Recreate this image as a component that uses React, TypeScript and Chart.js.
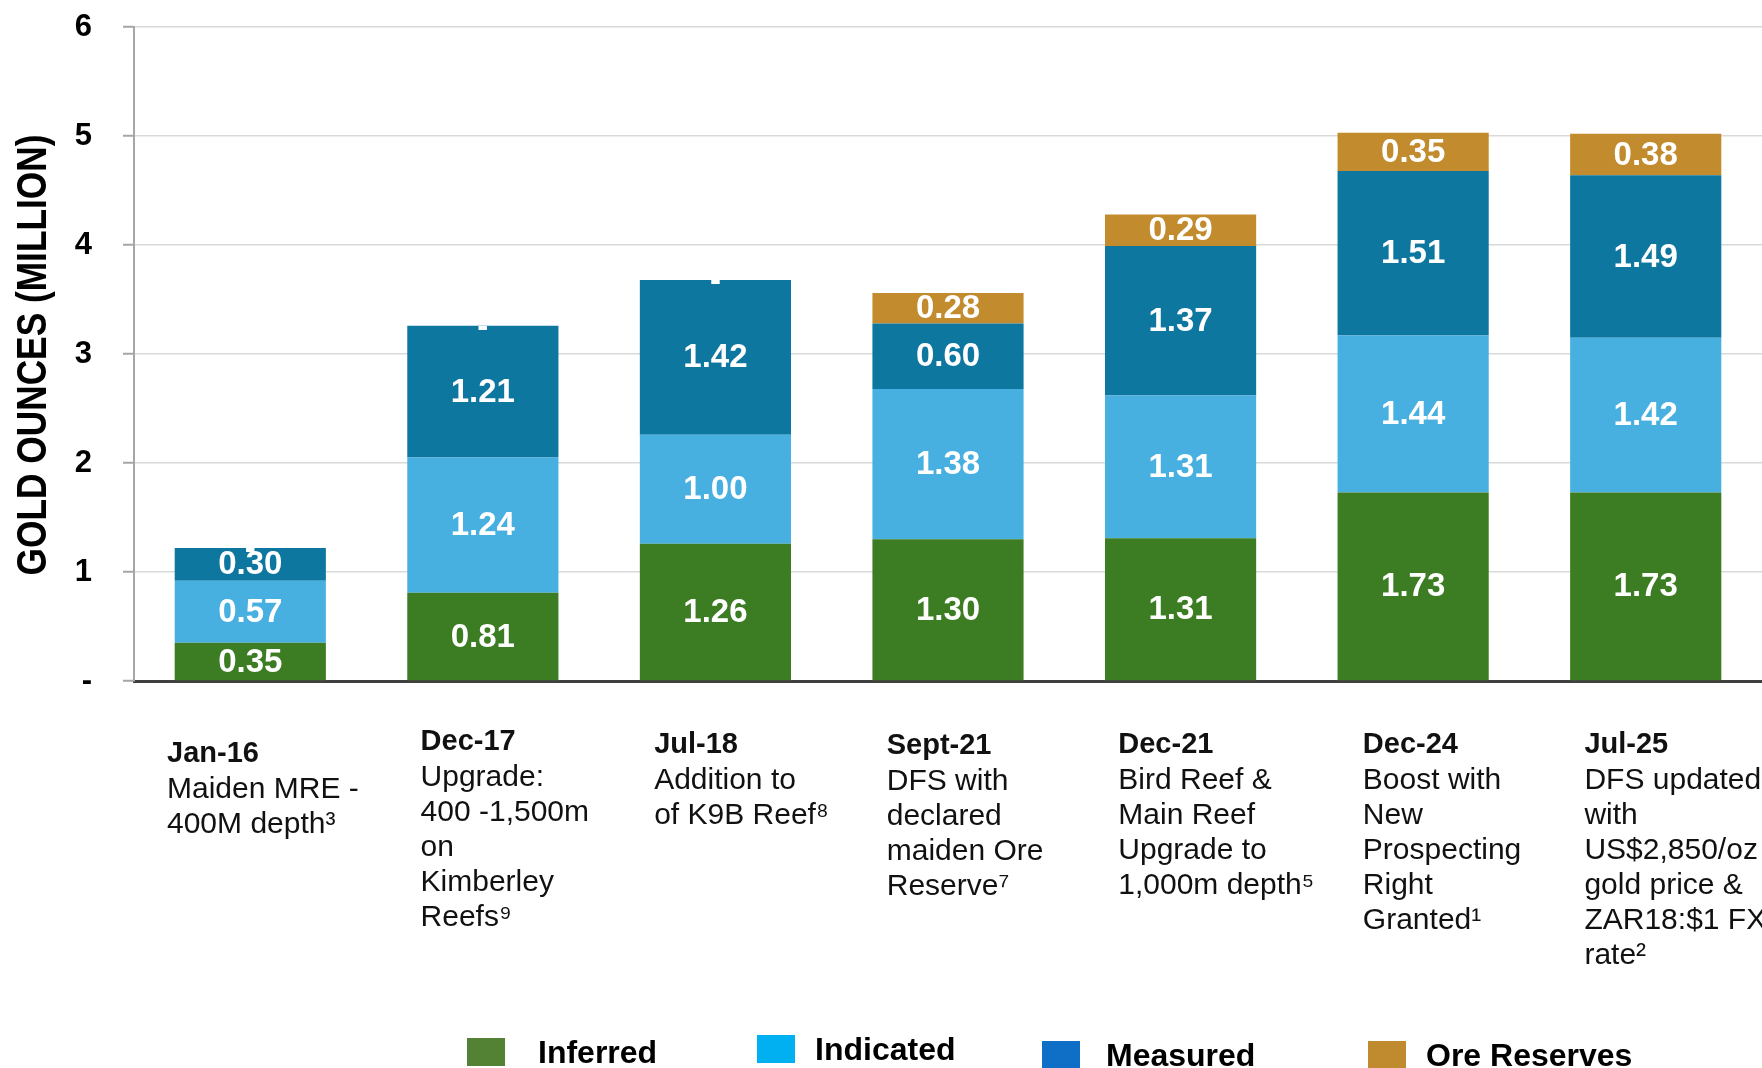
import React, { useEffect, useRef } from 'react';
import { Chart, registerables } from 'chart.js';

Chart.register(...registerables);

// ---------- data ----------
const periods = ['Jan-16', 'Dec-17', 'Jul-18', 'Sept-21', 'Dec-21', 'Dec-24', 'Jul-25'];
const periodNotes: string[][] = [
  ['Maiden MRE -', '400M depth³'],
  ['Upgrade:', '400 -1,500m', 'on', 'Kimberley', 'Reefs⁹'],
  ['Addition to', 'of K9B Reef⁸'],
  ['DFS with', 'declared', 'maiden Ore', 'Reserve⁷'],
  ['Bird Reef &', 'Main Reef', 'Upgrade to', '1,000m depth⁵'],
  ['Boost with', 'New', 'Prospecting', 'Right', 'Granted¹'],
  ['DFS updated', 'with', 'US$2,850/oz', 'gold price &', 'ZAR18:$1 FX', 'rate²'],
];
const inferred = [0.35, 0.81, 1.26, 1.30, 1.31, 1.73, 1.73];
const indicated = [0.57, 1.24, 1.00, 1.38, 1.31, 1.44, 1.42];
const measured = [0.30, 1.21, 1.42, 0.60, 1.37, 1.51, 1.49];
const oreReserves = [0, 0, 0, 0.28, 0.29, 0.35, 0.38];
const yTickLabels = ['-', '1', '2', '3', '4', '5', '6'];
const seriesNames = ['Inferred', 'Indicated', 'Measured', 'Ore Reserves'];
const yTitle = 'GOLD OUNCES (MILLION)';

// ---------- styles / layout ----------
const barColors = ['#3C7D23', '#48B0E0', '#0E77A0', '#C28C2E'];
const legendColors = ['#548235', '#00B0F0', '#0F6FC6', '#BF8B2E'];
const legendBoxX = [467, 757, 1042, 1368];
const legendTextX = [538, 815, 1106, 1426];
const legendDy = [0, -3, 3, 3];
const labelShiftX = [33, 54, 55, 55, 54, 66, 55];
const titleBaseY = [762, 750, 753, 754, 753, 753, 753];
const SANS = '"Liberation Sans", Arial, sans-serif';

const overlayPlugin = {
  id: 'overlay',
  afterDatasetsDraw(chart: any) {
    const ctx = chart.ctx as CanvasRenderingContext2D;
    ctx.save();
    ctx.fillStyle = '#ffffff';
    ctx.font = `bold 33px ${SANS}`;
    ctx.textAlign = 'center';
    ctx.textBaseline = 'middle';
    chart.data.datasets.forEach((ds: any, di: number) => {
      const meta = chart.getDatasetMeta(di);
      meta.data.forEach((bar: any, i: number) => {
        const v = ds.data[i] as number;
        const { x, y, base } = bar.getProps(['x', 'y', 'base'], true);
        if (v > 0) ctx.fillText(v.toFixed(2), x, (y + base) / 2 + 1);
        else ctx.fillText('-', x, y + 2);
      });
    });
    ctx.restore();
  },
  afterDraw(chart: any) {
    const ctx = chart.ctx as CanvasRenderingContext2D;
    const xs = chart.scales.x;
    const ys = chart.scales.y;
    const catW = (chart.chartArea.right - chart.chartArea.left) / periods.length;
    ctx.save();
    // y-axis title (condensed)
    ctx.save();
    ctx.translate(34, (ys.top + ys.bottom) / 2 + 1);
    ctx.rotate(-Math.PI / 2);
    ctx.scale(0.84, 1);
    ctx.font = `bold 42px ${SANS}`;
    ctx.fillStyle = '#000000';
    ctx.textAlign = 'center';
    ctx.textBaseline = 'middle';
    ctx.fillText(yTitle, 0, 0);
    ctx.restore();

    ctx.fillStyle = '#111111';
    ctx.textAlign = 'left';
    ctx.textBaseline = 'alphabetic';
    periods.forEach((p, i) => {
      const left = xs.getPixelForValue(i) - catW / 2 + labelShiftX[i];
      ctx.font = `bold 29px ${SANS}`;
      ctx.fillText(p, left, titleBaseY[i]);
      ctx.font = `30px ${SANS}`;
      periodNotes[i].forEach((line, li) => {
        ctx.fillText(line, left, titleBaseY[i] + 36 + li * 35);
      });
    });
    // legend
    ctx.font = `bold 32px ${SANS}`;
    seriesNames.forEach((name, i) => {
      ctx.fillStyle = legendColors[i];
      ctx.fillRect(legendBoxX[i], 1038 + legendDy[i], 38, 28);
      ctx.fillStyle = '#000000';
      ctx.fillText(name, legendTextX[i], 1063 + legendDy[i]);
    });
    ctx.restore();
  },
};

export default function App() {
  const ref = useRef<HTMLCanvasElement>(null);
  useEffect(() => {
    document.body.style.margin = '0';
    document.body.style.overflow = 'hidden';
    const seriesData = [inferred, indicated, measured, oreReserves];
    const chart = new Chart(ref.current as HTMLCanvasElement, {
      type: 'bar',
      data: {
        labels: periods,
        datasets: seriesNames.map((name, i) => ({
          label: name,
          data: seriesData[i],
          backgroundColor: barColors[i],
          borderWidth: 0,
          barPercentage: 0.65,
          categoryPercentage: 1,
        })),
      },
      options: {
        responsive: false,
        animation: false,
        devicePixelRatio: 1,
        layout: { padding: { top: 27, right: 0, bottom: 0, left: 0 } },
        plugins: { legend: { display: false }, tooltip: { enabled: false } },
        scales: {
          x: {
            stacked: true,
            grid: { display: false },
            ticks: { display: false },
            border: { color: '#404040', width: 3 },
            afterFit: (s: any) => { s.height = 387; },
          },
          y: {
            stacked: true,
            min: 0,
            max: 6,
            ticks: {
              stepSize: 1,
              callback: (_v: any, i: number) => yTickLabels[i],
              font: { family: SANS, size: 31, weight: 'bold' },
              color: '#000000',
              padding: 31,
            },
            grid: { color: '#d9d9d9', lineWidth: 1.5, tickLength: 11, tickColor: '#a6a6a6', tickWidth: 2 },
            border: { color: '#a6a6a6', width: 2 },
            afterFit: (s: any) => {
              s.width = 134;
              s.paddingTop = 0;
              s.paddingBottom = 0;
            },
          },
        },
      } as any,
      plugins: [overlayPlugin],
    });
    return () => chart.destroy();
  }, []);
  return <canvas ref={ref} width={1762} height={1068} style={{ display: 'block' }} />;
}
